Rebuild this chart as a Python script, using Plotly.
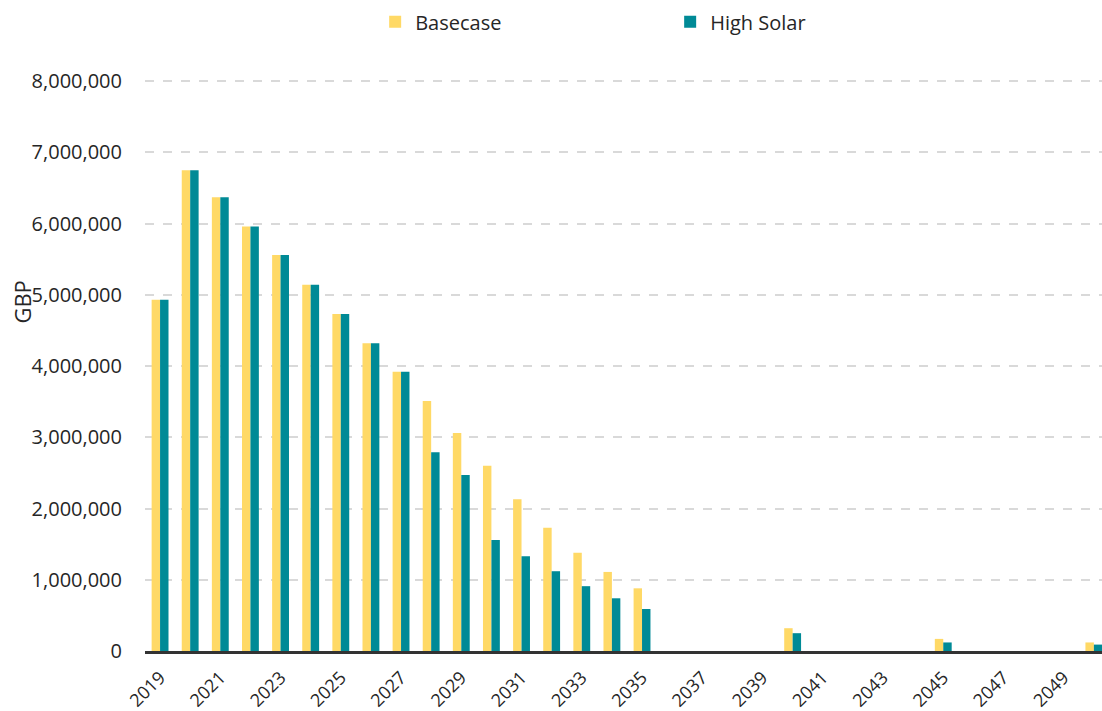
import plotly.graph_objects as go

years = list(range(2019, 2051))
basecase = [4930000, 6750000, 6370000, 5960000, 5560000, 5140000, 4730000, 4320000, 3920000,
            3510000, 3060000, 2600000, 2130000, 1730000, 1380000, 1110000, 880000,
            0, 0, 0, 0, 320000, 0, 0, 0, 0, 170000, 0, 0, 0, 0, 120000]
high_solar = [4930000, 6750000, 6370000, 5960000, 5560000, 5140000, 4730000, 4320000, 3920000,
              2790000, 2470000, 1560000, 1330000, 1120000, 910000, 740000, 590000,
              0, 0, 0, 0, 250000, 0, 0, 0, 0, 120000, 0, 0, 0, 0, 90000]
tick_years = list(range(2019, 2051, 2))

fig = go.Figure()
fig.add_trace(go.Bar(x=years, y=basecase, name="Basecase", marker=dict(color="#FFD966", line=dict(width=0))))
fig.add_trace(go.Bar(x=years, y=high_solar, name="High Solar", marker=dict(color="#008A96", line=dict(width=0))))

fig.update_layout(
    width=1102, height=711,
    margin=dict(l=145, r=0, t=79, b=60),
    paper_bgcolor="white", plot_bgcolor="white",
    font=dict(family="Open Sans", size=18, color="#262626"),
    barmode="group", bargap=0.44, bargroupgap=0,
    legend=dict(orientation="h", x=0.2405, y=1.1, xanchor="left", yanchor="middle",
                entrywidth=250, font=dict(size=20), traceorder="normal"),
    showlegend=True,
    xaxis=dict(range=[2018.5, 2050.27], tickmode="array", tickvals=tick_years,
               ticktext=[str(y) for y in tick_years], tickangle=-45,
               showgrid=False, showline=True, linecolor="#333333", linewidth=3,
               ticks="", tickfont=dict(size=18), ticklabelstandoff=6),
    yaxis=dict(range=[0, 8030000], tickvals=[0, 1000000, 2000000, 3000000, 4000000, 5000000, 6000000, 7000000, 8000000],
               tickformat=",", showgrid=True, gridcolor="#D9D9D9", gridwidth=2, griddash="dash",
               zeroline=False, showline=False, ticks="", tickfont=dict(size=20), ticklabelstandoff=22),
    annotations=[dict(text="GBP", xref="paper", yref="paper", x=-0.128, y=0.61, textangle=-90,
                      showarrow=False, font=dict(size=22, color="#262626"), xanchor="center", yanchor="middle")],
)

fig.write_html("out.html")
